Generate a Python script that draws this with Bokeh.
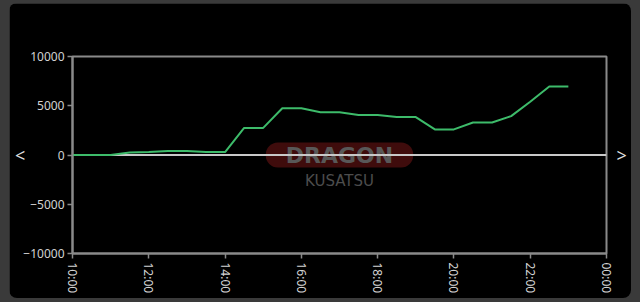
import math
from bokeh.plotting import figure
from bokeh.models import FixedTicker, Span, Label, LinearAxis
from bokeh.layouts import column
from bokeh.embed import file_html
from bokeh.resources import INLINE

times = ["10:00", "10:30", "11:00", "11:30", "12:00", "12:30", "13:00", "13:30",
         "14:00", "14:30", "15:00", "15:30", "16:00", "16:30", "17:00", "17:30",
         "18:00", "18:30", "19:00", "19:30", "20:00", "20:30", "21:00", "21:30",
         "22:00", "22:30", "23:00"]
values = [0, 0, 0, 250, 300, 400, 400, 300,
          300, 2750, 2750, 4750, 4750, 4350, 4350, 4050,
          4050, 3850, 3850, 2600, 2600, 3300, 3300, 3950,
          5400, 6950, 6950]
x_ticks = [10, 12, 14, 16, 18, 20, 22, 24]
x_tick_labels = ["10:00", "12:00", "14:00", "16:00", "18:00", "20:00", "22:00", "00:00"]
y_ticks = [-10000, -5000, 0, 5000, 10000]

hours = [int(t.split(":")[0]) + int(t.split(":")[1]) / 60 for t in times]

FONT = "Noto Sans"
LABEL = "#d2d2d2"
AXIS = "#8a8a8a"

p = figure(width=622, height=295, output_backend="svg", toolbar_location=None,
           x_range=(10, 24), y_range=(-10000, 10000),
           min_border_left=63, min_border_right=25, min_border_top=53, min_border_bottom=45,
           background_fill_color="black", border_fill_color="black")
p.outline_line_color = AXIS
p.outline_line_width = 2
p.grid.visible = False

p.xaxis.ticker = FixedTicker(ticks=x_ticks)
p.xaxis.major_label_overrides = {t: l for t, l in zip(x_ticks, x_tick_labels)}
p.xaxis.major_label_orientation = -math.pi / 2
p.yaxis.ticker = FixedTicker(ticks=y_ticks)
for ax in (p.xaxis, p.yaxis):
    ax.axis_line_color = AXIS
    ax.axis_line_width = 2
    ax.major_tick_line_color = AXIS
    ax.major_tick_line_width = 1.5
    ax.major_tick_in = 0
    ax.major_tick_out = 5
    ax.minor_tick_line_color = None
    ax.major_label_text_color = LABEL
    ax.major_label_text_font = FONT
    ax.major_label_text_font_size = "12px"
    ax.major_label_standoff = 4
p.yaxis.major_label_standoff = 3

# navigation arrows as axis labels (left and right of the frame)
p.yaxis.axis_label = "<"
p.yaxis.axis_label_orientation = "horizontal"
p.yaxis.axis_label_standoff = -5
p.yaxis.axis_label_text_color = "#dddddd"
p.yaxis.axis_label_text_font = FONT
p.yaxis.axis_label_text_font_style = "normal"
p.yaxis.axis_label_text_font_size = "18px"

right = LinearAxis(ticker=FixedTicker(ticks=[]), axis_line_color=None,
                   major_tick_line_color=None, minor_tick_line_color=None,
                   axis_label=">", axis_label_orientation="horizontal",
                   axis_label_standoff=10, axis_label_text_color="#dddddd",
                   axis_label_text_font=FONT, axis_label_text_font_style="normal",
                   axis_label_text_font_size="18px")
p.add_layout(right, "right")

# watermark
p.add_layout(Label(x=17.0, y=0, text="DRAGON", text_align="center", text_baseline="middle",
                   text_color="#585858", text_font="DejaVu Sans", text_font_style="bold",
                   text_font_size="22px", background_fill_color="#4a0e0e",
                   background_fill_alpha=0.85, padding=(20, 0), border_radius=12,
                   level="underlay"))
p.add_layout(Label(x=17.0, y=-2650, text="KUSATSU", text_align="center", text_baseline="middle",
                   text_color="#4c4c4c", text_font="DejaVu Sans", text_font_size="15px",
                   level="underlay"))

p.add_layout(Span(location=0, dimension="width", line_color="#c8c8c8", line_width=2,
                  level="underlay"))
p.line(hours, values, line_color="#3dbb6a", line_width=2)

p.styles = {"border-radius": "8px", "overflow": "hidden"}
layout = column(p, styles={"background-color": "#3a3a3a", "padding": "3px 9px 4px 9px"})

open("out.html", "w").write(file_html(layout, INLINE))
